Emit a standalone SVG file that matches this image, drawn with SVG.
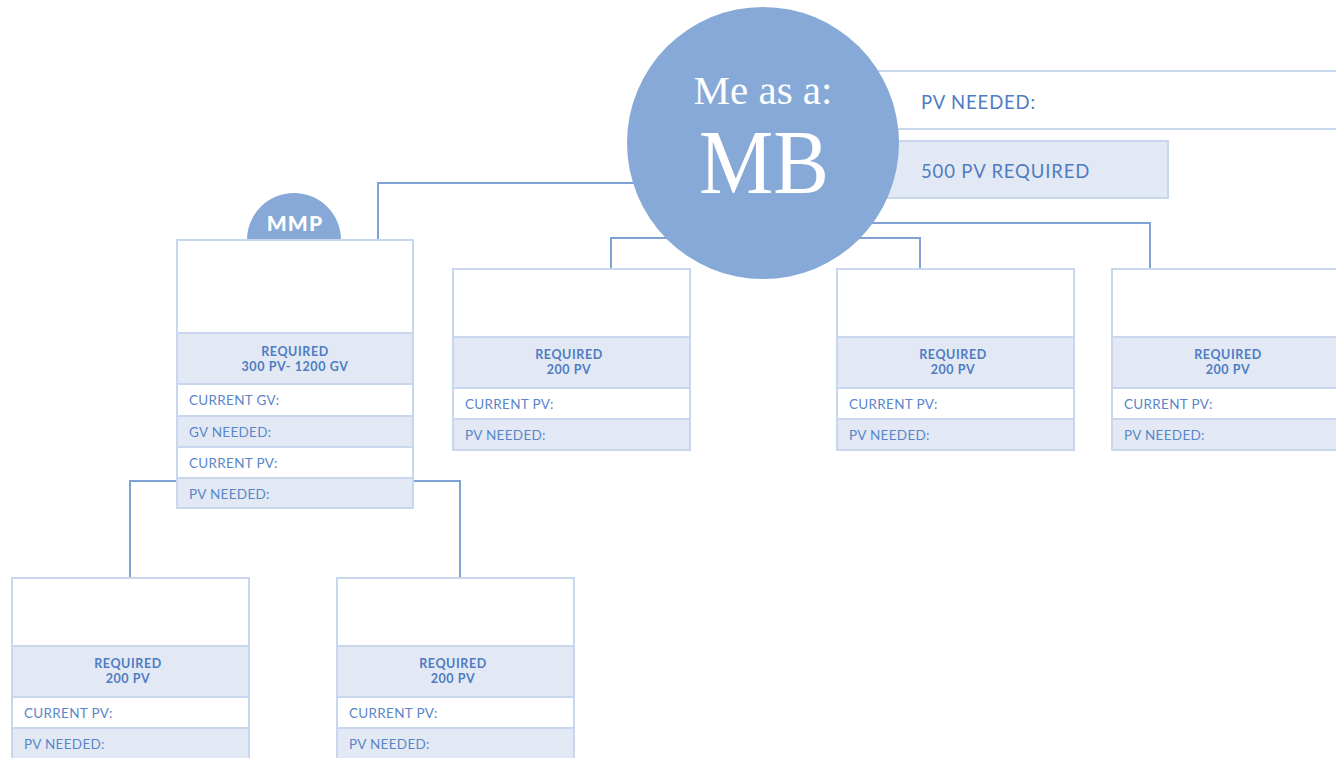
<svg xmlns="http://www.w3.org/2000/svg" width="1336" height="758" viewBox="0 0 1336 758">
<style>
.bx{fill:#ffffff;stroke:#c8d7ee;stroke-width:2}
.sh{fill:#e2e9f5;stroke:#c8d7ee;stroke-width:2}
.cn{fill:none;stroke:#7fa1d3;stroke-width:2}
.req{font-family:Lato,"Noto Sans",sans-serif;font-weight:bold;font-size:12.5px;letter-spacing:0.6px;fill:#4f7cc2;text-anchor:middle}
.lb{font-family:Lato,"Noto Sans",sans-serif;font-size:13.5px;letter-spacing:0.3px;fill:#5a86c8}
.big{font-family:Lato,"Noto Sans",sans-serif;font-size:18.5px;letter-spacing:0.85px;fill:#4f7cc2}
.ser{font-family:"Liberation Serif","DejaVu Serif",serif;fill:#ffffff;text-anchor:middle}
</style>
<rect width="1336" height="758" fill="#ffffff"/>
<g id="connectors">
<path class="cn" d="M640 183 H378 V240"/>
<path class="cn" d="M611 269 V238 H920 V269"/>
<path class="cn" d="M763 223 H1150 V269"/>
<path class="cn" d="M130 578 V481 H460 V578"/>
</g>
<g id="pv-needed-top">
<rect class="bx" x="840" y="71" width="510" height="58"/>
<text class="big" x="921" y="109">PV NEEDED:</text>
</g>
<g id="pv-required-top">
<rect class="sh" x="840" y="141" width="328" height="57"/>
<text class="big" x="921" y="178">500 PV REQUIRED</text>
</g>
<g id="mmp">
<path d="M247 240 A47 47 0 0 1 341 240 Z" fill="#86a9d8"/>
<text x="295" y="231" font-family="Lato,'Noto Sans',sans-serif" font-weight="900" font-size="21" letter-spacing="1.2" fill="#ffffff" text-anchor="middle">MMP</text>
<rect class="bx" x="177" y="240" width="236" height="93"/>
<rect class="sh" x="177" y="333" width="236" height="51"/>
<rect class="bx" x="177" y="384" width="236" height="32"/>
<rect class="sh" x="177" y="416" width="236" height="31"/>
<rect class="bx" x="177" y="447" width="236" height="31"/>
<rect class="sh" x="177" y="478" width="236" height="30"/>
<text class="req" x="295" y="356">REQUIRED</text>
<text class="req" x="295" y="371">300 PV- 1200 GV</text>
<text class="lb" x="189" y="405">CURRENT GV:</text>
<text class="lb" x="189" y="437">GV NEEDED:</text>
<text class="lb" x="189" y="468">CURRENT PV:</text>
<text class="lb" x="189" y="499">PV NEEDED:</text>
</g>
<g id="node-b1" transform="translate(453,269)">
<rect class="bx" x="0" y="0" width="237" height="68"/>
<rect class="sh" x="0" y="68" width="237" height="51"/>
<rect class="bx" x="0" y="119" width="237" height="31"/>
<rect class="sh" x="0" y="150" width="237" height="31"/>
<text class="req" x="116" y="90">REQUIRED</text>
<text class="req" x="116" y="105">200 PV</text>
<text class="lb" x="12" y="140">CURRENT PV:</text>
<text class="lb" x="12" y="171">PV NEEDED:</text>
</g>
<g id="node-b2" transform="translate(837,269)">
<rect class="bx" x="0" y="0" width="237" height="68"/>
<rect class="sh" x="0" y="68" width="237" height="51"/>
<rect class="bx" x="0" y="119" width="237" height="31"/>
<rect class="sh" x="0" y="150" width="237" height="31"/>
<text class="req" x="116" y="90">REQUIRED</text>
<text class="req" x="116" y="105">200 PV</text>
<text class="lb" x="12" y="140">CURRENT PV:</text>
<text class="lb" x="12" y="171">PV NEEDED:</text>
</g>
<g id="node-b3" transform="translate(1112,269)">
<rect class="bx" x="0" y="0" width="237" height="68"/>
<rect class="sh" x="0" y="68" width="237" height="51"/>
<rect class="bx" x="0" y="119" width="237" height="31"/>
<rect class="sh" x="0" y="150" width="237" height="31"/>
<text class="req" x="116" y="90">REQUIRED</text>
<text class="req" x="116" y="105">200 PV</text>
<text class="lb" x="12" y="140">CURRENT PV:</text>
<text class="lb" x="12" y="171">PV NEEDED:</text>
</g>
<g id="node-c1" transform="translate(12,578)">
<rect class="bx" x="0" y="0" width="237" height="68"/>
<rect class="sh" x="0" y="68" width="237" height="51"/>
<rect class="bx" x="0" y="119" width="237" height="31"/>
<rect class="sh" x="0" y="150" width="237" height="31"/>
<text class="req" x="116" y="90">REQUIRED</text>
<text class="req" x="116" y="105">200 PV</text>
<text class="lb" x="12" y="140">CURRENT PV:</text>
<text class="lb" x="12" y="171">PV NEEDED:</text>
</g>
<g id="node-c2" transform="translate(337,578)">
<rect class="bx" x="0" y="0" width="237" height="68"/>
<rect class="sh" x="0" y="68" width="237" height="51"/>
<rect class="bx" x="0" y="119" width="237" height="31"/>
<rect class="sh" x="0" y="150" width="237" height="31"/>
<text class="req" x="116" y="90">REQUIRED</text>
<text class="req" x="116" y="105">200 PV</text>
<text class="lb" x="12" y="140">CURRENT PV:</text>
<text class="lb" x="12" y="171">PV NEEDED:</text>
</g>
<g id="me-mb">
<circle cx="763" cy="143" r="136" fill="#86a9d8"/>
<text class="ser" x="763" y="104" font-size="41">Me as a:</text>
<text class="ser" x="764" y="193" font-size="92" textLength="130" lengthAdjust="spacingAndGlyphs">MB</text>
</g>
</svg>
